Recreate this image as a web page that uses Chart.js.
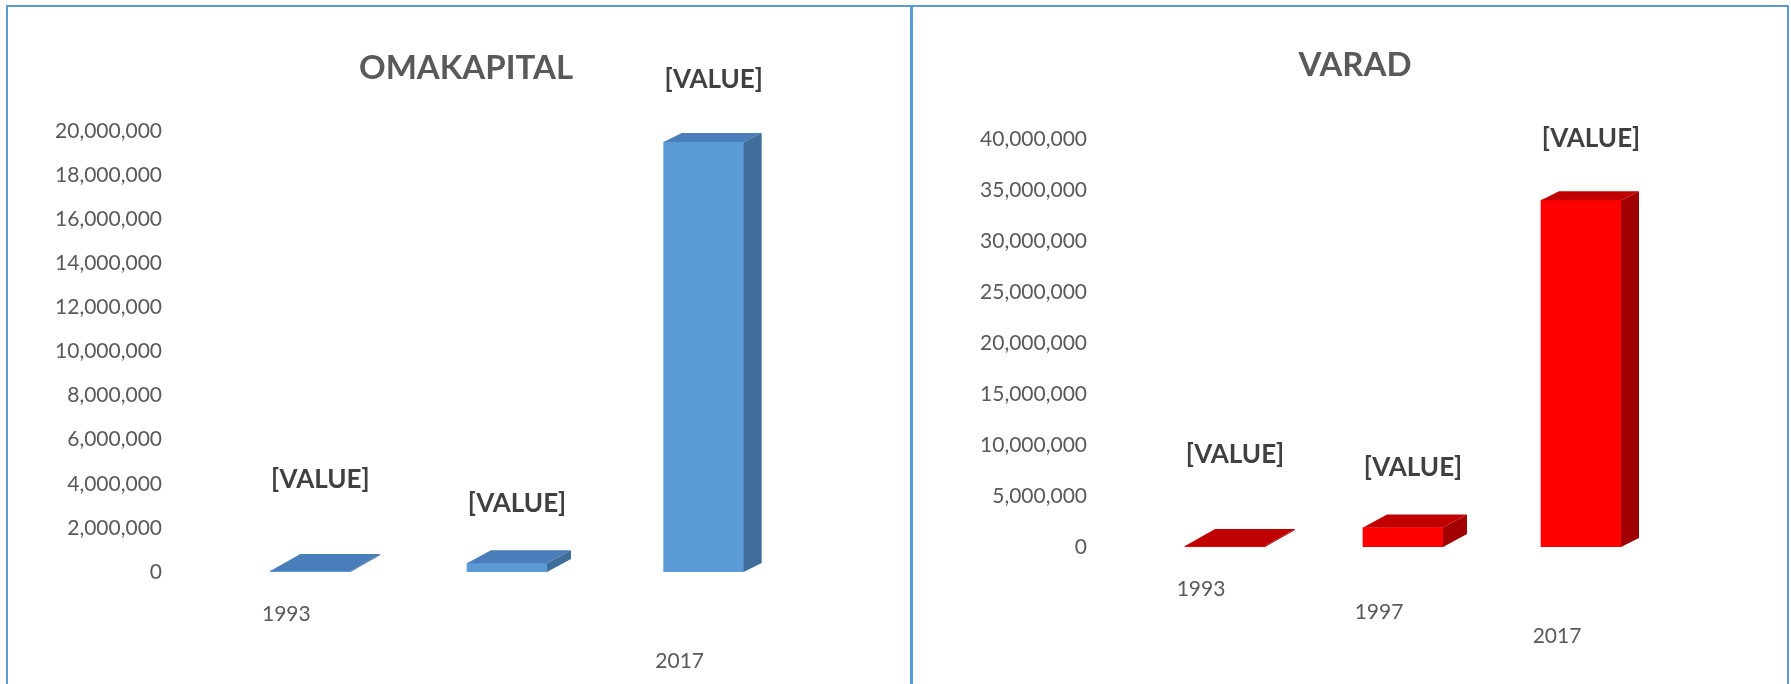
<!DOCTYPE html>
<html>
<head>
<meta charset="utf-8">
<script src="https://cdn.jsdelivr.net/npm/chart.js@4.4.1/dist/chart.umd.min.js"></script>
<style>
  html, body { margin: 0; padding: 0; background: #fff; overflow: hidden; }
  body { width: 1791px; height: 684px; position: relative; }
  .panel { position: absolute; top: 5px; height: 700px; border: 2px solid #5b9bd5; box-sizing: border-box; }
  #leftPanel { left: 6px; width: 906px; }
  #rightPanel { left: 911px; width: 878px; }
  .panel canvas { position: absolute; left: 0; top: 0; }
  .title { position: absolute; font: bold 33px Lato, sans-serif; color: #595959;
           transform: translate(-50%, -50%); white-space: nowrap; }
</style>
</head>
<body>
<div class="panel" id="leftPanel"><canvas id="omaChart" width="902" height="677"></canvas></div>
<div class="panel" id="rightPanel"><canvas id="varadChart" width="874" height="677"></canvas></div>
<div class="title" style="left:466px; top:66px">OMAKAPITAL</div>
<div class="title" style="left:1355px; top:63px">VARAD</div>
<script>
// categories and values
const years = ['1993', '1997', '2017'];
const omakapital = [50000, 400000, 19500000];
const varad = [100000, 1900000, 34000000];
const valueLabel = '[VALUE]';

// how far each data label floats above its bar (Excel 3D placement)
const labelLift = [91, 60, 62];

// fake 3D: top and side faces drawn onto the bars Chart.js laid out
const bars3d = {
  id: 'bars3d',
  afterDatasetsDraw(chart, args, opts) {
    const { ctx } = chart;
    const meta = chart.getDatasetMeta(0);
    const n = meta.data.length;
    ctx.save();
    meta.data.forEach((bar, i) => {
      const { x, y, base, width } = bar.getProps(['x', 'y', 'base', 'width'], true);
      const t = n > 1 ? i / (n - 1) : 0;
      const dx = 30 - 12 * t, dy = 17 - 8 * t;
      const l = x - width / 2, r = x + width / 2, top = Math.min(y, base);
      ctx.fillStyle = opts.topColor;
      ctx.beginPath();
      ctx.moveTo(l, top); ctx.lineTo(r, top); ctx.lineTo(r + dx, top - dy); ctx.lineTo(l + dx, top - dy);
      ctx.closePath(); ctx.fill();
      ctx.fillStyle = opts.sideColor;
      ctx.beginPath();
      ctx.moveTo(r, top); ctx.lineTo(r + dx, top - dy); ctx.lineTo(r + dx, base - dy); ctx.lineTo(r, base);
      ctx.closePath(); ctx.fill();

      ctx.font = 'bold 26px Lato, sans-serif';
      ctx.fillStyle = '#404040';
      ctx.textAlign = 'center';
      ctx.textBaseline = 'middle';
      ctx.fillText(valueLabel, x + 10, top - labelLift[i]);
    });

    // staggered category labels, following the tilted floor
    const xs = chart.scales.x, ys = chart.scales.y;
    const y0 = ys.getPixelForValue(0);
    ctx.font = '21px Lato, sans-serif';
    ctx.fillStyle = '#595959';
    chart.data.labels.forEach((lab, i) => {
      if ((opts.hidden || []).includes(i)) return;
      ctx.fillText(lab, xs.getPixelForTick(i) - 24, y0 + 42 + 23.5 * i);
    });
    ctx.restore();
  },
};

function makeChart(id, values, max, step, colors, box) {
  return new Chart(document.getElementById(id), {
    type: 'bar',
    data: {
      labels: years,
      datasets: [{ data: values, backgroundColor: colors.front, borderWidth: 0, barThickness: 80 }],
    },
    options: {
      responsive: false, animation: false,
      layout: { padding: { left: 0, top: box.top, right: box.right, bottom: box.bottom } },
      plugins: {
        legend: { display: false }, tooltip: { enabled: false },
        bars3d: { topColor: colors.top, sideColor: colors.side, hidden: box.hidden },
      },
      scales: {
        x: { display: false },
        y: {
          min: 0, max, afterFit: s => { s.width = box.left; },
          grid: { display: false, drawTicks: false }, border: { display: false },
          ticks: {
            stepSize: step, padding: box.tickPad, color: '#595959',
            font: { family: 'Lato', size: 21 },
            callback: v => v.toLocaleString('en-US'),
          },
        },
      },
    },
    plugins: [bars3d],
  });
}

makeChart('omaChart', omakapital, 20000000, 2000000,
  { front: '#5b9bd5', top: '#4a7ebb', side: '#3f6e9a' },
  { left: 204, top: 124, right: 108, bottom: 112, tickPad: 50, hidden: [1] });

makeChart('varadChart', varad, 40000000, 5000000,
  { front: '#ff0000', top: '#c00000', side: '#a00000' },
  { left: 223, top: 132, right: 117, bottom: 137, tickPad: 49, hidden: [] });
</script>
</body>
</html>
